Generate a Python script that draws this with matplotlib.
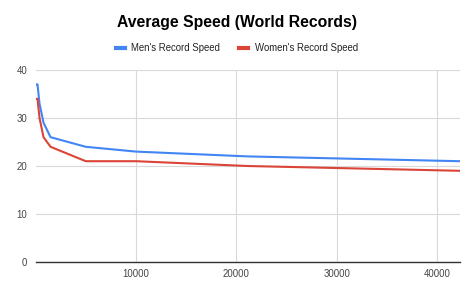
import matplotlib
matplotlib.use("Agg")
import matplotlib.pyplot as plt
from matplotlib.lines import Line2D

plt.rcParams['font.family'] = ['Liberation Sans', 'DejaVu Sans']

distances = [100, 200, 400, 800, 1500, 5000, 10000, 21097, 42195]
men_speed = [37, 37, 33, 29, 26, 24, 23, 22, 21]
women_speed = [34, 34, 30, 26, 24, 21, 21, 20, 19]
x_ticks = [10000, 20000, 30000, 40000]
y_ticks = [0, 10, 20, 30, 40]

fig = plt.figure(figsize=(4.74, 2.93), dpi=100)
ax = fig.add_axes([35.5/474, (293-262)/293, (459.5-35.5)/474, (262-70)/293])

blue = '#4285F4'
red = '#DB4437'
ax.plot(distances, men_speed, color=blue, lw=1.5, solid_joinstyle='round')
ax.plot(distances, women_speed, color=red, lw=1.5, solid_joinstyle='round')

ax.set_xlim(0, 42195)
ax.set_ylim(0, 40)
ax.set_xticks(x_ticks)
ax.set_yticks(y_ticks)
ax.set_xticklabels([str(v) for v in x_ticks])
ax.set_yticklabels([str(v) for v in y_ticks])
ax.grid(True, color='#d9d9d9', lw=0.8)
ax.set_axisbelow(True)
for s in ['top', 'right', 'left']:
    ax.spines[s].set_visible(False)
ax.spines['bottom'].set_color('#333333')
ax.spines['bottom'].set_linewidth(1.0)
ax.tick_params(length=0, labelsize=6.9, labelcolor='#444444', pad=6)
ax.tick_params(axis='x', pad=5)

fig.text(0.5, 1 - 22/293, 'Average Speed (World Records)', ha='center', va='center',
         fontsize=11.3, fontweight='bold', color='#000000')

handles = [Line2D([], [], color=blue, lw=3), Line2D([], [], color=red, lw=3)]
fig.legend(handles, ["Men's Record Speed", "Women's Record Speed"],
           loc='center', bbox_to_anchor=(0.5, 1 - 48/293), ncol=2, frameon=False,
           fontsize=6.9, handlelength=0.9, handletextpad=0.7, columnspacing=2.0,
           labelcolor='#222222')

fig.savefig('out.png', dpi=100)
